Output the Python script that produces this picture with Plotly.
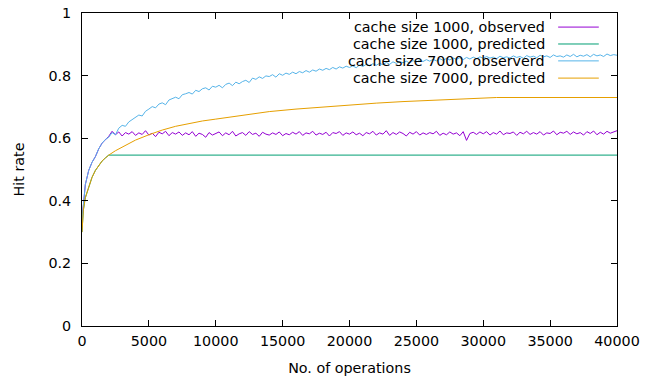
import plotly.graph_objects as go

# ---------------- data ----------------
x_obs = [i * 250 for i in range(161)]

obs_7000 = [
    0.340, 0.452, 0.497, 0.523, 0.541, 0.566, 0.584, 0.596,
    0.603, 0.618, 0.611, 0.632, 0.641, 0.638, 0.652, 0.659,
    0.668, 0.674, 0.671, 0.686, 0.693, 0.701, 0.697, 0.709,
    0.713, 0.707, 0.722, 0.727, 0.731, 0.726, 0.739, 0.742,
    0.746, 0.741, 0.753, 0.749, 0.758, 0.761, 0.754, 0.766,
    0.763, 0.769, 0.761, 0.772, 0.776, 0.768, 0.779, 0.774,
    0.781, 0.785, 0.778, 0.792, 0.788, 0.796, 0.791, 0.799,
    0.797, 0.803, 0.795, 0.806, 0.801, 0.808, 0.804, 0.811,
    0.806, 0.813, 0.809, 0.816, 0.811, 0.818, 0.814, 0.821,
    0.817, 0.823, 0.819, 0.826, 0.821, 0.828, 0.824, 0.830,
    0.826, 0.831, 0.825, 0.834, 0.829, 0.836, 0.831, 0.838,
    0.833, 0.839, 0.835, 0.842, 0.836, 0.844, 0.839, 0.845,
    0.841, 0.846, 0.840, 0.848, 0.843, 0.849, 0.845, 0.851,
    0.846, 0.852, 0.847, 0.854, 0.849, 0.855, 0.850, 0.856,
    0.852, 0.857, 0.851, 0.858, 0.853, 0.859, 0.854, 0.860,
    0.855, 0.861, 0.856, 0.859, 0.854, 0.862, 0.857, 0.860,
    0.856, 0.863, 0.858, 0.861, 0.855, 0.864, 0.859, 0.862,
    0.857, 0.865, 0.860, 0.863, 0.858, 0.866, 0.861, 0.863,
    0.859, 0.866, 0.861, 0.868, 0.860, 0.865, 0.862, 0.867,
    0.860, 0.868, 0.863, 0.866, 0.861, 0.869, 0.864, 0.867,
    0.865,
]

obs_1000 = [
    0.340, 0.452, 0.497, 0.523, 0.541, 0.566, 0.584, 0.596,
    0.606, 0.622, 0.611, 0.620, 0.607, 0.618, 0.613, 0.621,
    0.609, 0.617, 0.612, 0.624, 0.610, 0.616, 0.605, 0.619,
    0.614, 0.622, 0.608, 0.618, 0.613, 0.620, 0.609, 0.617,
    0.611, 0.621, 0.606, 0.616, 0.612, 0.603, 0.618, 0.610,
    0.615, 0.620, 0.608, 0.617, 0.611, 0.622, 0.607, 0.614,
    0.618, 0.609, 0.621, 0.612, 0.616, 0.606, 0.619, 0.613,
    0.610, 0.617, 0.612, 0.620, 0.608, 0.615, 0.611, 0.619,
    0.613, 0.621, 0.609, 0.617, 0.614, 0.622, 0.610, 0.616,
    0.612, 0.619, 0.607, 0.618, 0.615, 0.621, 0.609, 0.617,
    0.613, 0.620, 0.611, 0.616, 0.608, 0.618, 0.614, 0.622,
    0.610, 0.617, 0.613, 0.624, 0.609, 0.618, 0.612, 0.620,
    0.615, 0.607, 0.619, 0.613, 0.621, 0.610, 0.617, 0.612,
    0.618, 0.614, 0.622, 0.609, 0.616, 0.611, 0.620, 0.613,
    0.617, 0.608, 0.621, 0.593, 0.615, 0.619, 0.612, 0.620,
    0.614, 0.621, 0.610, 0.618, 0.613, 0.623, 0.611, 0.617,
    0.615, 0.620, 0.609, 0.619, 0.614, 0.622, 0.612, 0.618,
    0.613, 0.621, 0.610, 0.617, 0.615, 0.623, 0.611, 0.619,
    0.616, 0.622, 0.612, 0.620, 0.614, 0.618, 0.610, 0.621,
    0.615, 0.623, 0.611, 0.619, 0.613, 0.622, 0.616, 0.620,
    0.624,
]

x_pred_7000 = [0, 100, 250, 500, 750, 1000, 1250, 1500, 1750, 2000, 2500, 3000,
               3500, 4000, 5000, 6000, 7000, 8000, 9000, 10000, 12000, 14000,
               16000, 18000, 20000, 22000, 24000, 26000, 28000, 30000, 31000, 40000]
pred_7000 = [0.300, 0.370, 0.410, 0.445, 0.475, 0.497, 0.513, 0.527, 0.537, 0.546,
             0.560, 0.572, 0.583, 0.594, 0.611, 0.626, 0.638, 0.647, 0.655, 0.661,
             0.673, 0.685, 0.693, 0.700, 0.706, 0.712, 0.717, 0.721, 0.725, 0.729,
             0.730, 0.730]

x_pred_1000 = [0, 100, 250, 500, 750, 1000, 1250, 1500, 1750, 2000, 40000]
pred_1000 = [0.300, 0.370, 0.410, 0.445, 0.475, 0.497, 0.513, 0.527, 0.537, 0.546, 0.546]

series_names = ["cache size 1000, observed", "cache size 1000, predicted",
                "cache size 7000, observerd", "cache size 7000, predicted"]
colors = ["#9400d3", "#009e73", "#56b4e9", "#e69f00"]

x_ticks = [0, 5000, 10000, 15000, 20000, 25000, 30000, 35000, 40000]
y_ticks = [0, 0.2, 0.4, 0.6, 0.8, 1]
y_tick_text = ["0", "0.2", "0.4", "0.6", "0.8", "1"]

# ---------------- figure ----------------
FONT = "DejaVu Sans"
FS = 14.3

fig = go.Figure()
data = [(x_obs, obs_1000), (x_pred_1000, pred_1000), (x_obs, obs_7000), (x_pred_7000, pred_7000)]
for (xs, ys), name, c in zip(data, series_names, colors):
    fig.add_trace(go.Scatter(x=xs, y=ys, mode="lines", name=name,
                             line=dict(color=c, width=1), showlegend=False))

# manual gnuplot-style key (text right-aligned, sample line on the right)
row_y = [0.955, 0.901, 0.847, 0.792]
for name, c, yy in zip(series_names, colors, row_y):
    fig.add_annotation(x=0.869, y=yy, xref="paper", yref="paper", text=name,
                       showarrow=False, xanchor="right", yanchor="middle",
                       font=dict(family=FONT, size=FS, color="black"))
    fig.add_shape(type="line", xref="paper", yref="paper", x0=0.890, x1=0.966,
                  y0=yy, y1=yy, line=dict(color=c, width=1))

fig.update_layout(
    width=654, height=379,
    margin=dict(l=82, r=37, t=13, b=53, autoexpand=False),
    paper_bgcolor="white", plot_bgcolor="white",
    font=dict(family=FONT, size=FS, color="black"),
    xaxis=dict(range=[0, 40000], tickvals=x_ticks, ticktext=[str(v) for v in x_ticks],
               showgrid=False, zeroline=False, showline=True, linecolor="black",
               linewidth=1, mirror="ticks", ticks="inside", ticklen=6,
               tickcolor="black", ticklabelstandoff=2, automargin=False,
               title=dict(text="No. of operations", standoff=14,
                          font=dict(family=FONT, size=FS))),
    yaxis=dict(range=[0, 1], tickvals=y_ticks, ticktext=y_tick_text,
               showgrid=False, zeroline=False, showline=True, linecolor="black",
               linewidth=1, mirror="ticks", ticks="inside", ticklen=6,
               tickcolor="black", ticklabelstandoff=7, automargin=False,
               title=dict(text="Hit rate", standoff=20,
                          font=dict(family=FONT, size=FS))),
)

fig.write_html("out.html")
